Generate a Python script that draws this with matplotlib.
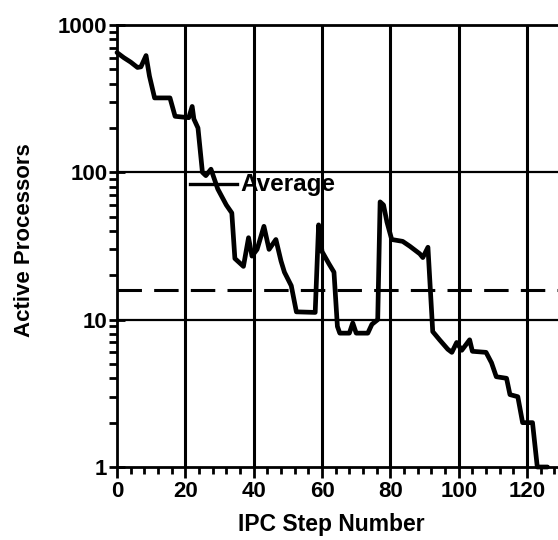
import matplotlib
matplotlib.use("Agg")
import matplotlib.pyplot as plt
from matplotlib.ticker import FixedLocator, NullFormatter, LogLocator

plt.rcParams['font.family'] = ['Liberation Sans', 'DejaVu Sans']
plt.rcParams['font.weight'] = 'bold'

# Data
step = [0, 2, 4, 6, 7, 8.5, 9.5, 11, 15.5, 17, 21, 22, 22.5, 23.7, 25, 26, 27.5,
        29.5, 32, 33.6, 34.5, 37, 38.5, 39.5, 41, 43, 44.5, 46.5, 48, 49, 51,
        52.5, 58, 59, 60, 62, 63.5, 64.5, 65.2, 68, 69, 70, 73.4, 74.6, 76.3,
        77, 78, 79, 80.4, 83.6, 85.7, 88.6, 89.5, 91, 92.4, 94.4, 96.8, 98,
        99.4, 100.9, 103.2, 104, 108, 109.6, 111, 114, 115, 117.3, 118.7,
        121.6, 123, 126]
active = [650, 600, 560, 515, 520, 620, 450, 320, 320, 240, 235, 280, 230, 200,
          100, 95, 105, 77, 60, 53, 26, 23, 36, 27, 30, 43, 30, 35, 25, 21, 17,
          11.3, 11.2, 44, 29, 24, 21, 9, 8.1, 8.1, 9.5, 8.1, 8.1, 9.3, 10,
          63, 60, 46, 35, 34, 31.5, 28, 26.4, 31, 8.3, 7.3, 6.3, 6, 7, 6.2,
          7.3, 6.1, 6, 5.1, 4.1, 4.0, 3.1, 3.0, 2.0, 2.0, 1.0, 1.0]
average = 16
x_ticks = [0, 20, 40, 60, 80, 100, 120]
y_ticks = [1, 10, 100, 1000]
y_ticklabels = ["1", "10", "100", "1000"]

fig = plt.figure(figsize=(5.58, 5.4), dpi=100)
ax = fig.add_axes([117/558, 73/540, 441/558, 442/540])
ax.set_yscale('log')
ax.set_xlim(0, 129.06)
ax.set_ylim(1, 1000)

# grid lines
for xv in x_ticks[1:]:
    ax.axvline(xv, color='black', lw=2.2, zorder=1)
for yv in [10, 100]:
    ax.axhline(yv, color='black', lw=1.6, zorder=1)

ax.axhline(average, color='black', lw=2.2, linestyle=(0, (8, 4)), zorder=2)

ax.plot(step, active, color='black', lw=3.4, solid_joinstyle='round',
        solid_capstyle='round', zorder=3, clip_on=False)

# Average label
ax.plot([21.4, 35.1], [83, 83], color='black', lw=2.4, zorder=4)
ax.text(36.2, 83, "Average", fontsize=17.5, fontweight='bold', va='center', ha='left', zorder=4)

for s in ['left', 'bottom', 'top']:
    ax.spines[s].set_linewidth(2.0)
ax.spines['right'].set_visible(False)

ax.xaxis.set_major_locator(FixedLocator(x_ticks))
ax.xaxis.set_minor_locator(FixedLocator([v for v in range(0, 129, 4) if v % 20 != 0]))
ax.yaxis.set_major_locator(FixedLocator(y_ticks))
ax.yaxis.set_minor_locator(LogLocator(base=10, subs=range(2, 10)))
ax.yaxis.set_minor_formatter(NullFormatter())
ax.set_xticklabels([str(v) for v in x_ticks])
ax.set_yticklabels(y_ticklabels)

ax.tick_params(axis='x', which='major', direction='out', length=8, width=2, labelsize=16, pad=2)
ax.tick_params(axis='x', which='minor', direction='out', length=5, width=2)
ax.tick_params(axis='y', which='major', direction='inout', length=12, width=2, labelsize=16, pad=1)
ax.tick_params(axis='y', which='minor', direction='out', length=6, width=2)
for lab in ax.get_xticklabels() + ax.get_yticklabels():
    lab.set_fontweight('bold')

ax.set_xlabel("IPC Step Number", fontsize=16.5, fontweight='bold')
ax.set_ylabel("Active Processors", fontsize=16, fontweight='bold')
ax.xaxis.set_label_coords((331 - 117) / 441, -0.105)
ax.yaxis.set_label_coords(-0.186, (467 - 240) / 442)

fig.savefig("out.png", dpi=100)
